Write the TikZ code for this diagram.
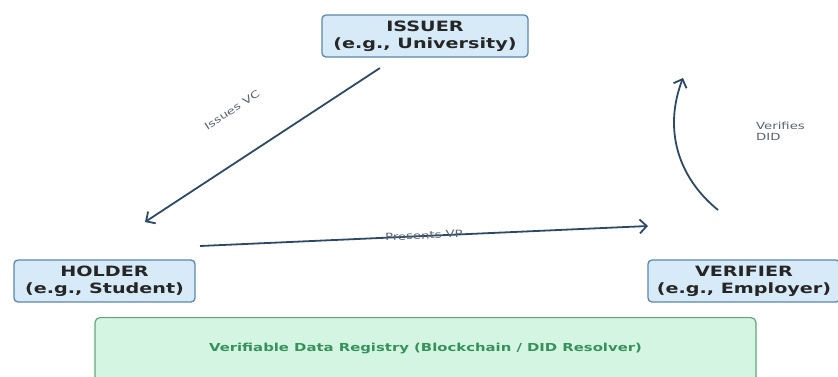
\documentclass[tikz,border=0pt]{standalone}
\usepackage{fontspec}
\setmainfont{DejaVu Sans}[FakeStretch=1.35]
\usepackage{tikz}
\usetikzlibrary{arrows.meta}
\definecolor{actorfill}{HTML}{D6EAF8}
\definecolor{actorline}{HTML}{5B87AE}
\definecolor{regfill}{HTML}{D5F5E3}
\definecolor{regline}{HTML}{5FA87A}
\definecolor{regtext}{HTML}{35925A}
\definecolor{flowline}{HTML}{2C4A68}
\definecolor{labeltext}{HTML}{5A6270}
\tikzset{x=1pt, y=-1pt,
  actor/.style={draw=actorline, fill=actorfill, rounded corners=4pt, line width=1.3pt,
    align=center, inner sep=0pt, minimum height=42pt, text=black!85,
    font=\fontsize{14.2}{17}\selectfont\bfseries},
  registry/.style={draw=regline, fill=regfill, rounded corners=5pt, line width=1.2pt,
    inner sep=0pt, text height=34pt, text depth=30pt, text=regtext,
    font=\fontsize{11}{12}\selectfont\bfseries},
  flow/.style={draw=flowline, line width=1.8pt, -{Straight Barb[length=7pt,width=14pt]}},
  flowlabel/.style={text=labeltext, inner sep=1pt, font=\fontsize{9.8}{11}\selectfont}}

\begin{document}
\begin{tikzpicture}
  \clip (0,0) rectangle (838,376);

  \node[actor, minimum width=206pt] (issuer)   at (425,36)    {ISSUER\\(e.g., University)};
  \node[actor, minimum width=181pt] (holder)   at (104.5,281) {HOLDER\\(e.g., Student)};
  \node[actor, minimum width=192pt] (verifier) at (744,281)   {VERIFIER\\(e.g., Employer)};
  \node[registry, minimum width=661pt, anchor=north] (registry) at (425.5,317)
    {Verifiable Data Registry (Blockchain / DID Resolver)};

  % free ends of the flows
  \coordinate (vcA) at (380,68);
  \coordinate (vcB) at (145,222);
  \coordinate (vpA) at (200,246);
  \coordinate (vpB) at (648,226);
  \coordinate (didA) at (718,210);
  \coordinate (didB) at (683,78);

  \draw[flow] (vcA) -- (vcB);
  \node[flowlabel, rotate=33] (vclabel) at (232,110) {Issues VC};

  \draw[flow] (vpA) -- node[flowlabel, sloped, above=-5pt] (vplabel) {Presents VP} (vpB);

  \draw[flow] (didA) to[bend left=36] (didB);
  \node[flowlabel, anchor=west, align=left] (didlabel) at (755,131) {Verifies\\DID};
\end{tikzpicture}
\end{document}
